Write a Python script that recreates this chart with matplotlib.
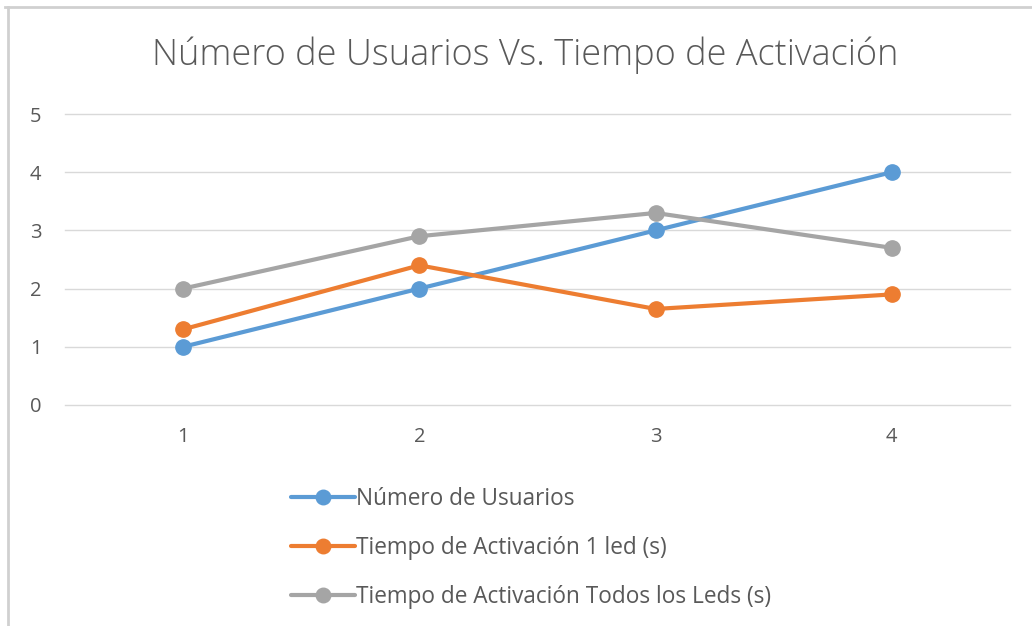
import matplotlib
matplotlib.use("Agg")
import matplotlib.pyplot as plt
from matplotlib.lines import Line2D

plt.rcParams['font.family'] = ['Open Sans', 'DejaVu Sans']

# Data
categories = [1, 2, 3, 4]
usuarios = [1, 2, 3, 4]
activacion_1_led = [1.3, 2.4, 1.65, 1.9]
activacion_todos = [2.0, 2.9, 3.3, 2.7]

series_names = ["Número de Usuarios", "Tiempo de Activación 1 led (s)",
                "Tiempo de Activación Todos los Leds (s)"]
colors = ['#5B9BD5', '#ED7D31', '#A5A5A5']
text_color = '#595959'

fig = plt.figure(figsize=(10.32, 6.26), dpi=100)
ax = fig.add_axes([65/1032, 1 - 405/626, (1010 - 65)/1032, (405 - 114)/626])

x = range(len(categories))
for vals, name, c in zip([usuarios, activacion_1_led, activacion_todos], series_names, colors):
    ax.plot(x, vals, color=c, lw=3, marker='o', markersize=11, label=name,
            solid_capstyle='round', zorder=3)

ax.set_xlim(-0.5, len(categories) - 0.5)
ax.set_ylim(0, 5)
ax.set_yticks(range(6))
ax.set_xticks(list(x))
ax.set_xticklabels([str(c) for c in categories])
ax.grid(axis='y', color='#D9D9D9', lw=1)
for gl in ax.get_ygridlines():
    gl.set_clip_on(False)
ax.set_axisbelow(True)
for s in ax.spines.values():
    s.set_visible(False)
ax.tick_params(length=0, labelsize=14.5, labelcolor=text_color)
ax.tick_params(axis='x', pad=16)
ax.tick_params(axis='y', pad=17)

fig.text(525/1032, 1 - 55/626, "Número de Usuarios Vs. Tiempo de Activación",
         ha='center', va='center', fontsize=26, color=text_color, fontweight='light')

fig.legend(loc='upper left', bbox_to_anchor=(280/1032, 1 - 476/626), frameon=False,
           fontsize=16.3, labelcolor=text_color, handlelength=2.8, handletextpad=0.05,
           labelspacing=1.1, borderpad=0, markerscale=0.95)

# outer frame lines (top and left)
fig.add_artist(Line2D([5/1032, 1], [1 - 7/626, 1 - 7/626], color='#D0D0D0', lw=2,
                      transform=fig.transFigure))
fig.add_artist(Line2D([8/1032, 8/1032], [0, 1 - 7/626], color='#D0D0D0', lw=2,
                      transform=fig.transFigure))

fig.savefig("out.png", dpi=100)
